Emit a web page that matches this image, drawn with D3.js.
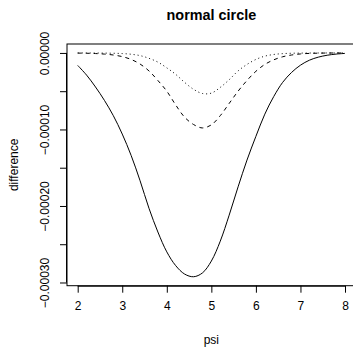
<!DOCTYPE html>
<html>
<head>
<meta charset="utf-8">
<script src="https://cdn.jsdelivr.net/npm/d3@7"></script>
<style>
  html, body { margin: 0; padding: 0; background: #fff; }
  svg { display: block; font-family: "Liberation Sans", Arial, Helvetica, sans-serif; }
</style>
</head>
<body>
<svg id="chart" width="353" height="347"></svg>
<script>
// ---- data ----
const title = "normal circle";
const xLabel = "psi";
const yLabel = "difference";
const psi = [2.0, 2.2, 2.4, 2.6, 2.8, 3.0, 3.2, 3.4, 3.6, 3.8, 4.0, 4.2, 4.4, 4.6, 4.8,
             5.0, 5.2, 5.4, 5.6, 5.8, 6.0, 6.2, 6.4, 6.6, 6.8, 7.0, 7.2, 7.4, 7.6, 7.8, 8.0];
const solid = [-1.63e-5, -2.9e-5, -4.45e-5, -6.2e-5, -8.2e-5, -10.6e-5, -13.4e-5, -16.7e-5,
               -20.3e-5, -23.4e-5, -26.0e-5, -27.8e-5, -28.9e-5, -29.25e-5, -28.75e-5,
               -27.2e-5, -24.6e-5, -21.2e-5, -17.5e-5, -14.0e-5, -10.9e-5, -8.0e-5, -5.7e-5,
               -3.85e-5, -2.55e-5, -1.6e-5, -0.95e-5, -0.55e-5, -0.3e-5, -0.15e-5, -0.06e-5];
const dashed = [-0.02e-5, -0.04e-5, -0.08e-5, -0.15e-5, -0.27e-5, -0.48e-5, -0.85e-5, -1.45e-5,
                -2.35e-5, -3.6e-5, -5.0e-5, -6.8e-5, -8.4e-5, -9.35e-5, -9.8e-5,
                -9.4e-5, -8.2e-5, -6.6e-5, -5.0e-5, -3.6e-5, -2.4e-5, -1.5e-5, -0.9e-5,
                -0.5e-5, -0.27e-5, -0.13e-5, -0.06e-5, -0.03e-5, -0.01e-5, -0.005e-5, -0.002e-5];
const dotted = [-0.002e-5, -0.004e-5, -0.01e-5, -0.02e-5, -0.04e-5, -0.08e-5, -0.17e-5, -0.35e-5,
                -0.7e-5, -1.2e-5, -1.95e-5, -2.8e-5, -3.85e-5, -4.75e-5, -5.3e-5,
                -5.25e-5, -4.5e-5, -3.5e-5, -2.35e-5, -1.5e-5, -0.85e-5, -0.42e-5, -0.2e-5,
                -0.09e-5, -0.04e-5, -0.02e-5, -0.01e-5, -0.005e-5, -0.003e-5, -0.002e-5, -0.001e-5];
const xTicks = [2, 3, 4, 5, 6, 7, 8];
const yTicks = [0, -0.00005, -0.0001, -0.00015, -0.0002, -0.00025, -0.0003];
const yTickLabels = ["0.00000", "", "\u22120.00010", "", "\u22120.00020", "", "\u22120.00030"];

// ---- layout ----
const svg = d3.select("#chart");
const mLeft = 67, mRight = 355.7, mTop = 44, mBottom = 285.7;

function padded(ext) { const r = ext[1] - ext[0]; return [ext[0] - 0.04 * r, ext[1] + 0.04 * r]; }
const xDom = padded(d3.extent(psi));
const yDom = padded(d3.extent([...solid, ...dashed, ...dotted]));
const x = d3.scaleLinear().domain(xDom).range([mLeft, mRight]);
const y = d3.scaleLinear().domain(yDom).range([mBottom, mTop]);

// curves
const series = [
  { values: solid, dash: null },
  { values: dashed, dash: "4,4" },
  { values: dotted, dash: "1,3" }
];
const line = d3.line().x(d => x(d[0])).y(d => y(d[1])).curve(d3.curveCatmullRom.alpha(0.5));
svg.append("g").selectAll("path").data(series).join("path")
  .attr("d", s => line(psi.map((p, i) => [p, s.values[i]])))
  .attr("fill", "none").attr("stroke", "#000").attr("stroke-width", 1)
  .attr("stroke-dasharray", s => s.dash);

// box
svg.append("rect").attr("x", mLeft).attr("y", mTop)
  .attr("width", mRight - mLeft).attr("height", mBottom - mTop)
  .attr("fill", "none").attr("stroke", "#000").attr("stroke-width", 1);

// x axis
const xAxis = d3.axisBottom(x).tickValues(xTicks).tickSize(7).tickPadding(9).tickFormat(d3.format("d"));
const gx = svg.append("g").attr("transform", `translate(0,${mBottom})`).call(xAxis);
gx.select(".domain").attr("d", `M${x(xTicks[0])},0.5H${x(xTicks[xTicks.length-1])}`);
gx.selectAll("text").attr("font-size", 12).attr("fill", "#000").attr("font-family", "Liberation Sans, Arial, sans-serif");
gx.selectAll("line").attr("stroke", "#000");

// y axis
const yAxis = d3.axisLeft(y).tickValues(yTicks).tickSize(7).tickFormat((d, i) => yTickLabels[i]);
const gy = svg.append("g").attr("transform", `translate(${mLeft},0)`).call(yAxis);
gy.select(".domain").attr("d", `M-0.5,${y(yTicks[0])}V${y(yTicks[yTicks.length-1])}`);
gy.selectAll("line").attr("stroke", "#000");
gy.selectAll(".tick text")
  .attr("font-size", 12).attr("fill", "#000").attr("font-family", "Liberation Sans, Arial, sans-serif")
  .attr("x", null).attr("dy", null)
  .attr("text-anchor", "middle")
  .attr("transform", "translate(-18,0) rotate(-90)");

// title and axis labels
svg.append("text").attr("x", (mLeft + mRight) / 2).attr("y", 20)
  .attr("text-anchor", "middle").attr("font-size", 14.4).attr("font-weight", "bold").text(title);
svg.append("text").attr("x", (mLeft + mRight) / 2).attr("y", 344)
  .attr("text-anchor", "middle").attr("font-size", 12).text(xLabel);
svg.append("text").attr("transform", `translate(18,${(mTop + mBottom) / 2}) rotate(-90)`)
  .attr("text-anchor", "middle").attr("font-size", 12).text(yLabel);
</script>
</body>
</html>
